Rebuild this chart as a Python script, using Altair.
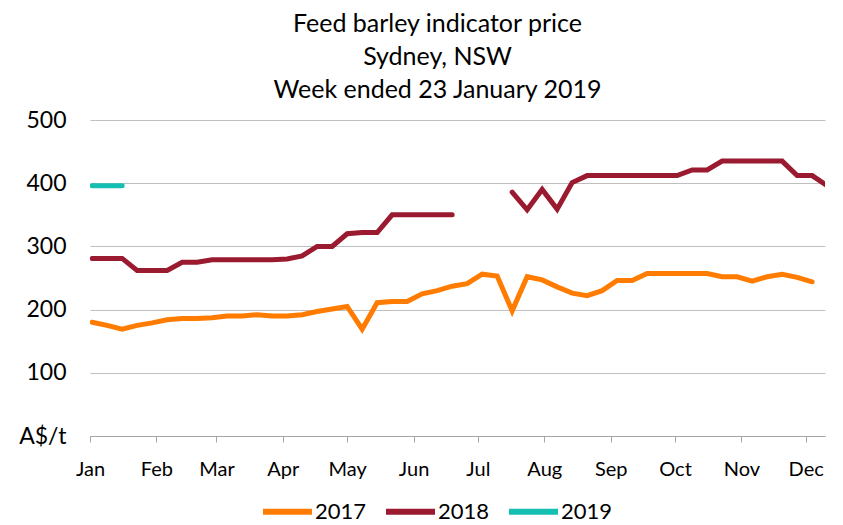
import altair as alt
import pandas as pd

years = ["2017", "2018", "2019"]
colors = ["#FF7C00", "#9A1A2F", "#14BFB2"]

first_week = "2017-01-02"

values_2017 = [180, 175, 169, 175, 179, 184, 186, 186, 187, 190,
               190, 192, 190, 190, 192, 197, 201, 205, 169, 211,
               213, 213, 225, 230, 237, 241, 256, 253, 198, 252,
               247, 236, 226, 222, 230, 246, 246, 257, 257, 257,
               257, 257, 252, 252, 245, 252, 256, 251, 244]

values_2018 = [281, 281, 281, 262, 262, 262, 275, 275, 279, 279,
               279, 279, 279, 280, 285, 300, 300, 320, 322, 322,
               350, 350, 350, 350, 350, None, None, None,
               386, 358, 390, 359, 401, 412, 412, 412, 412, 412,
               412, 412, 421, 421, 435, 435, 435, 435, 435, 412,
               412, 396]

values_2019 = [396, 396, 396]

y_ticks = [0, 100, 200, 300, 400, 500]

series = {"2017": values_2017, "2018": values_2018, "2019": values_2019}
frames = []
for yr, vals in series.items():
    dates = pd.date_range(first_week, periods=len(vals), freq="7D")
    frames.append(pd.DataFrame({"date": dates.strftime("%Y-%m-%dT00:00:00"),
                                "value": vals, "year": yr}))
df = pd.concat(frames, ignore_index=True)

FONT = "Lato"

chart = alt.Chart(df).mark_line(
    strokeWidth=5, strokeCap="round", clip=True
).encode(
    x=alt.X("date:T",
            scale=alt.Scale(domain=[alt.DateTime(year=2017, month=1, date=1),
                                    alt.DateTime(year=2017, month=12, date=10)]),
            axis=alt.Axis(title=None, format="%b",
                          tickCount={"interval": "month", "step": 1},
                          labelFlush=False, labelOverlap=False,
                          domainColor="#A6A6A6", tickColor="#A6A6A6",
                          tickSize=6, labelPadding=17, grid=False,
                          labelFont=FONT, labelFontSize=20, labelColor="#000000")),
    y=alt.Y("value:Q",
            scale=alt.Scale(domain=[0, 500], nice=False),
            axis=alt.Axis(title=None, values=y_ticks, domain=False, ticks=False,
                          labelExpr="datum.value == 0 ? 'A$/t' : datum.label",
                          labelPadding=24, gridColor="#BFBFBF", gridWidth=1,
                          labelFont=FONT, labelFontSize=23, labelColor="#000000")),
    color=alt.Color("year:N",
                    scale=alt.Scale(domain=years, range=colors),
                    legend=alt.Legend(title=None, orient="none", direction="horizontal",
                                      legendX=170, legendY=364,
                                      symbolType="stroke", symbolStrokeWidth=6,
                                      symbolSize=2401, labelOffset=0,
                                      columnPadding=7, padding=0,
                                      labelFont=FONT, labelFontSize=22,
                                      labelColor="#000000")),
).properties(
    width=735, height=316,
    title=alt.TitleParams(text=["Feed barley indicator price", "Sydney, NSW",
                                "Week ended 23 January 2019"],
                          font=FONT, fontSize=25, fontWeight="normal",
                          color="#000000", lineHeight=33, anchor="middle",
                          dx=-20, offset=6),
    padding={"left": 10, "top": 4, "right": 5, "bottom": 0},
).configure_view(stroke=None)

chart.save("out.html", embed_options={"renderer": "svg", "actions": False})
